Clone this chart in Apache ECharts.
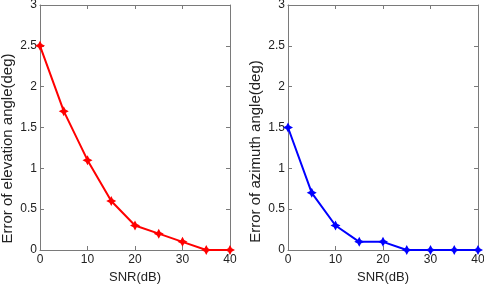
<!DOCTYPE html>
<html>
<head>
<meta charset="utf-8">
<script src="https://cdn.jsdelivr.net/npm/echarts@6/dist/echarts.min.js"></script>
<style>
html, body { margin: 0; padding: 0; background: #fff; }
#main { width: 484px; height: 284px; }
</style>
</head>
<body>
<div id="main"></div>
<script>
// 数据
var snr = [0, 5, 10, 15, 20, 25, 30, 35, 40];
var elevErr = [2.5, 1.7, 1.1, 0.6, 0.3, 0.2, 0.1, 0, 0];
var azimErr = [1.5, 0.7, 0.3, 0.1, 0.1, 0, 0, 0, 0];
var yTicks = ['0', '0.5', '1', '1.5', '2', '2.5', '3'];

var starPath = 'path://M0,-10 L3.5,-3.5 L10,0 L3.5,3.5 L0,10 L-3.5,3.5 L-10,0 L-3.5,-3.5 Z';
var font = 'Liberation Sans, Arial, sans-serif';
var axisCol = '#7a7a7a';

function pairs(ys) {
    var out = [];
    for (var i = 0; i < snr.length; i++) {
        out.push([snr[i], ys[i]]);
    }
    return out;
}

function xAx(gi, pos, show) {
    return {
        type: 'value', gridIndex: gi, position: pos, min: 0, max: 40, interval: 10,
        name: show ? 'SNR(dB)' : '', nameLocation: 'middle', nameGap: 16,
        nameTextStyle: { color: '#222', fontSize: 13, fontFamily: font },
        axisLine: { show: true, onZero: false, lineStyle: { color: axisCol, width: 1 } },
        axisTick: { show: true, inside: true, length: 4, lineStyle: { color: axisCol } },
        axisLabel: { show: show, color: '#222', fontSize: 12, fontFamily: font, margin: 4 },
        splitLine: { show: false }
    };
}

function yAx(gi, pos, show, title, shift) {
    return {
        type: 'value', gridIndex: gi, position: pos, min: 0, max: 3, interval: 0.5,
        name: show ? title : '', nameLocation: 'middle', nameGap: 25, nameRotate: 90,
        nameTextStyle: { color: '#222', fontSize: 15, fontFamily: font, padding: [0, shift || 0, 0, 0] },
        axisLine: { show: true, onZero: false, lineStyle: { color: axisCol, width: 1 } },
        axisTick: { show: true, inside: true, length: 4, lineStyle: { color: axisCol } },
        axisLabel: {
            show: show, color: '#222', fontSize: 12, fontFamily: font, margin: 3,
            formatter: function (v) { return yTicks[Math.round(v * 2)]; }
        },
        splitLine: { show: false }
    };
}

var myChart = echarts.init(document.getElementById('main'), null, { renderer: 'canvas' });

var option = {
    backgroundColor: '#fff',
    animation: false,
    grid: [
        { left: 40, right: 254, top: 5, bottom: 34, outerBoundsMode: 'none' },
        { left: 288, right: 6, top: 5, bottom: 34, outerBoundsMode: 'none' }
    ],
    xAxis: [
        xAx(0, 'bottom', true), xAx(0, 'top', false),
        xAx(1, 'bottom', true), xAx(1, 'top', false)
    ],
    yAxis: [
        yAx(0, 'left', true, 'Error of elevation angle(deg)', 42), yAx(0, 'right', false),
        yAx(1, 'left', true, 'Error of azimuth angle(deg)', 48), yAx(1, 'right', false)
    ],
    series: [
        {
            type: 'line', xAxisIndex: 0, yAxisIndex: 0, data: pairs(elevErr),
            symbol: starPath, symbolSize: 10,
            lineStyle: { color: '#ff0000', width: 2 },
            itemStyle: { color: '#ff0000' }
        },
        {
            type: 'line', xAxisIndex: 2, yAxisIndex: 2, data: pairs(azimErr),
            symbol: starPath, symbolSize: 10,
            lineStyle: { color: '#0000ff', width: 2 },
            itemStyle: { color: '#0000ff' }
        }
    ]
};

myChart.setOption(option);
</script>
</body>
</html>
